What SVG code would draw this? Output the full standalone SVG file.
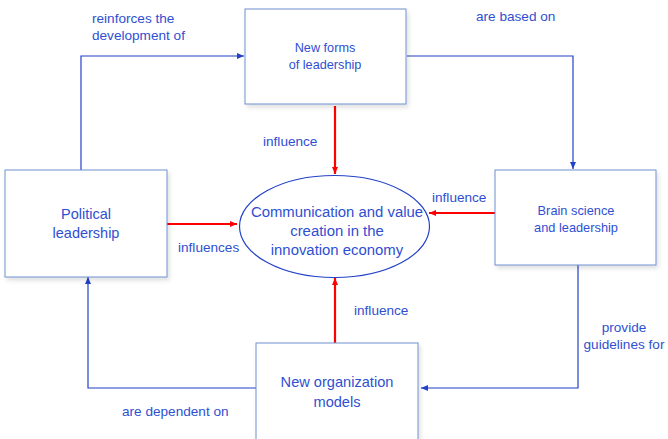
<svg xmlns="http://www.w3.org/2000/svg" width="668" height="439" viewBox="0 0 668 439">
<defs>
<marker id="ab" markerWidth="8" markerHeight="8" refX="7" refY="4" orient="auto" markerUnits="userSpaceOnUse"><path d="M0,1 L7,4 L0,7 Z" fill="#2341c8"/></marker>
<marker id="ar" markerWidth="8" markerHeight="8" refX="7" refY="4" orient="auto" markerUnits="userSpaceOnUse"><path d="M0,1 L7,4 L0,7 Z" fill="#ff0000"/></marker>
<filter id="sh" x="-10%" y="-10%" width="130%" height="130%"><feDropShadow dx="2" dy="3" stdDeviation="2" flood-color="#000" flood-opacity="0.12"/></filter>
</defs>
<style>
.box{fill:#fff;stroke:#6f8fd0;stroke-width:1;filter:url(#sh)}
.nt{font-family:"Liberation Sans",Arial,sans-serif;fill:#2f4fd2;text-anchor:middle}
.lb{font-family:"Liberation Sans",Arial,sans-serif;fill:#2f4fd2;font-size:13.6px}
.bl{fill:none;stroke:#2341c8;stroke-width:1.2;marker-end:url(#ab)}
.rd{fill:none;stroke:#ff0000;stroke-width:2.2;marker-end:url(#ar)}
</style>
<rect width="668" height="439" fill="#fff"/>
<g id="connectors">
<path class="rd" d="M335,106 V174"/>
<path class="rd" d="M167,224 H237"/>
<path class="rd" d="M495,213 H429"/>
<path class="rd" d="M335,343 V278"/>
<path class="bl" d="M81,170 V56 H244"/>
<path class="bl" d="M407,56 H573 V169"/>
<path class="bl" d="M578,265 V388 H421"/>
<path class="bl" d="M256,388 H88 V277"/>
<text class="lb" x="263" y="146">influence</text>
<text class="lb" x="178" y="252">influences</text>
<text class="lb" x="432" y="202">influence</text>
<text class="lb" x="354" y="315">influence</text>
<text class="lb" x="92" y="23">reinforces the</text>
<text class="lb" x="92" y="40">development of</text>
<text class="lb" x="476" y="21">are based on</text>
<text class="lb" x="624" y="332" text-anchor="middle">provide</text>
<text class="lb" x="624" y="349" text-anchor="middle">guidelines for</text>
<text class="lb" x="122" y="416">are dependent on</text>
</g>
<g id="new-forms">
<rect class="box" x="245" y="9" width="161" height="95"/>
<text class="nt" font-size="12.7" x="325" y="52">New forms</text>
<text class="nt" font-size="12.7" x="325" y="69">of leadership</text>
</g>
<g id="political">
<rect class="box" x="5" y="170" width="162" height="107"/>
<text class="nt" font-size="14.5" x="86" y="219">Political</text>
<text class="nt" font-size="14.5" x="86" y="238">leadership</text>
</g>
<g id="brain">
<rect class="box" x="495" y="170" width="161" height="95"/>
<text class="nt" font-size="12.8" x="576" y="215">Brain science</text>
<text class="nt" font-size="12.8" x="576" y="232">and leadership</text>
</g>
<g id="org">
<rect class="box" x="256" y="343" width="162" height="100"/>
<text class="nt" font-size="14.6" x="337" y="387">New organization</text>
<text class="nt" font-size="14.6" x="337" y="407">models</text>
</g>
<g id="center">
<ellipse cx="334.5" cy="226.5" rx="95" ry="51" fill="#fff" stroke="#2341c8" stroke-width="1.2"/>
<text class="nt" font-size="14.9" x="337" y="217">Communication and value</text>
<text class="nt" font-size="14.9" x="337" y="236">creation in the</text>
<text class="nt" font-size="14.9" x="337" y="255">innovation economy</text>
</g>
</svg>
